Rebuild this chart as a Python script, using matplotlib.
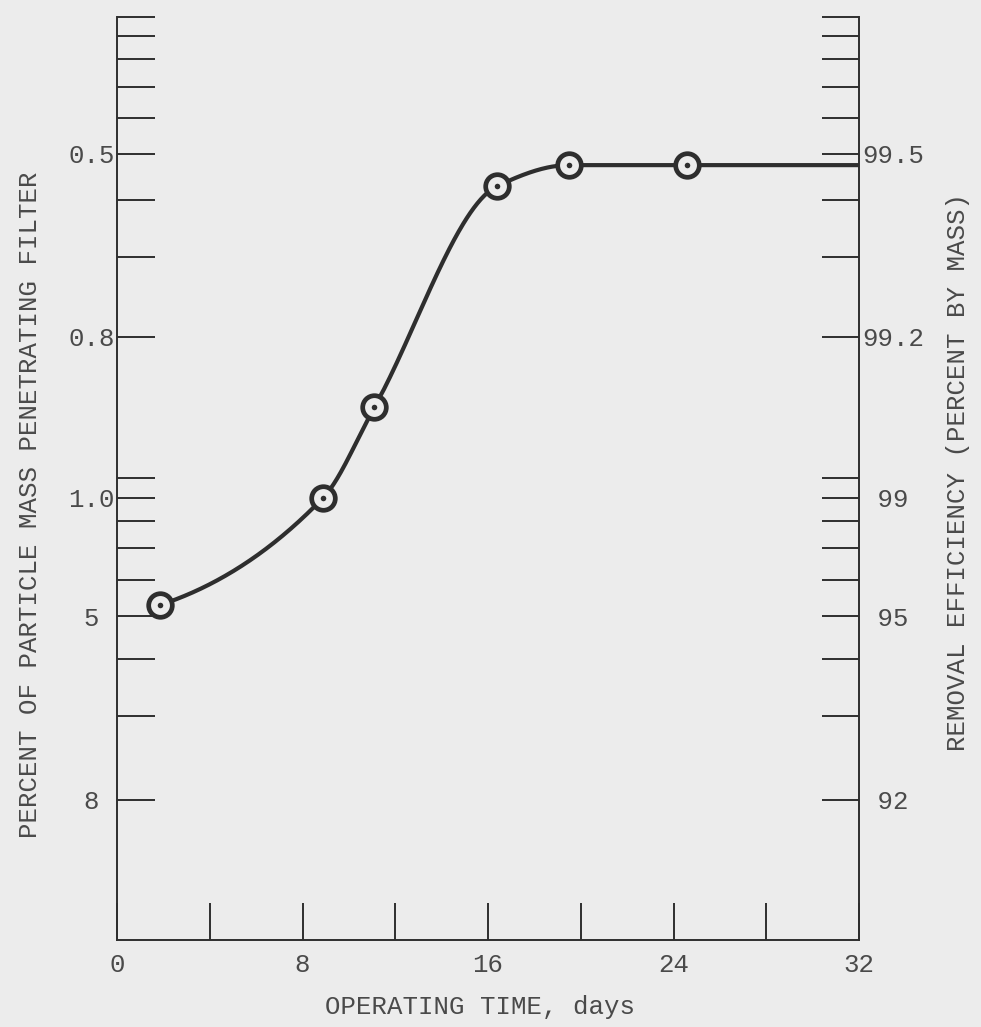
import numpy as np
import matplotlib.pyplot as plt

# filter test readings
days = [1.85, 8.9, 11.1, 16.4, 19.5, 24.6]
penetration = [4.7, 1.0, 0.85, 0.57, 0.525, 0.525]

# labelled rules, penetration on the left and removal efficiency on the right
labelled = [0.5, 0.8, 1.0, 5, 8]
left_labels = ['0.5', '0.8', '1.0', '5 ', '8 ']
right_labels = ['99.5', '99.2', ' 99', ' 95', ' 92']

x_ticks = [0, 4, 8, 12, 16, 20, 24, 28, 32]
x_labels = ['0', '', '8', '', '16', '', '24', '', '32']

# rules of the graph paper: value and depth (px) below the top edge
paper_vals = np.array([0.0, 0.1, 0.2, 0.3, 0.4, 0.5, 0.6, 0.7, 0.8, 0.9,
                       1.0, 2.0, 3.0, 4.0, 5.0, 6.0, 7.0, 8.0])
paper_depth = np.array([0, 19.5, 42, 70, 101.5, 137, 183.5, 240, 320.5, 461,
                        481, 504.5, 531, 563, 599.5, 642.5, 699.5, 783])
axis_depth = 923.5

lo_slope = (paper_depth[1] - paper_depth[0]) / (paper_vals[1] - paper_vals[0])
hi_slope = (paper_depth[-1] - paper_depth[-2]) / (paper_vals[-1] - paper_vals[-2])


def to_depth(v):
    v = np.asarray(v, dtype=float)
    d = np.interp(v, paper_vals, paper_depth)
    d = np.where(v > paper_vals[-1], paper_depth[-1] + (v - paper_vals[-1]) * hi_slope, d)
    d = np.where(v < paper_vals[0], paper_depth[0] + (v - paper_vals[0]) * lo_slope, d)
    return d


def from_depth(d):
    d = np.asarray(d, dtype=float)
    v = np.interp(d, paper_depth, paper_vals)
    v = np.where(d > paper_depth[-1], paper_vals[-1] + (d - paper_depth[-1]) / hi_slope, v)
    v = np.where(d < paper_depth[0], paper_vals[0] + (d - paper_depth[0]) / lo_slope, v)
    return v


def smooth_curve(x, y, xs):
    # monotone cubic hermite through the readings
    x = np.asarray(x, float)
    y = np.asarray(y, float)
    h = np.diff(x)
    d = np.diff(y) / h
    m = np.zeros_like(y)
    for k in range(1, len(x) - 1):
        if d[k - 1] * d[k] > 0:
            w1 = 2 * h[k] + h[k - 1]
            w2 = h[k] + 2 * h[k - 1]
            m[k] = (w1 + w2) / (w1 / d[k - 1] + w2 / d[k])
    m[0] = 0.5 * d[0]
    m[-1] = 0.0
    idx = np.clip(np.searchsorted(x, xs) - 1, 0, len(x) - 2)
    t = (xs - x[idx]) / h[idx]
    h00 = 2 * t**3 - 3 * t**2 + 1
    h10 = t**3 - 2 * t**2 + t
    h01 = -2 * t**3 + 3 * t**2
    h11 = t**3 - t**2
    return (h00 * y[idx] + h10 * h[idx] * m[idx]
            + h01 * y[idx + 1] + h11 * h[idx] * m[idx + 1])


bg = '#ececec'
ink = '#2e2e2e'
text_col = '#4a4a4a'
font = 'Liberation Mono'
fs = 18.5

plt.rcParams['font.family'] = font

fig = plt.figure(figsize=(9.81, 10.27), dpi=100, facecolor=bg)
ax = fig.add_axes([117 / 981, 1 - 940 / 1027, 742 / 981, 923.5 / 1027])
ax.set_facecolor(bg)

x_max = 32
ax.set_yscale('function', functions=(to_depth, from_depth))
ax.set_xlim(0, x_max)
ax.set_ylim(float(from_depth(axis_depth)), 0.0)

# curve drawn in paper depth, flat out to the right edge after the last reading
cx = list(days) + [x_max]
cy = list(to_depth(penetration)) + [float(to_depth(penetration[-1]))]
xs = np.linspace(days[0], x_max, 600)
ax.plot(xs, from_depth(smooth_curve(cx, cy, xs)), color=ink, lw=3.0,
        solid_capstyle='butt', zorder=2)

ax.plot(days, penetration, 'o', ms=17, mfc=bg, mec=ink, mew=3.4, zorder=3)
ax.plot(days, penetration, 'o', ms=4, mfc=ink, mec=ink, mew=0, zorder=4)

for s in ['left', 'right', 'bottom']:
    ax.spines[s].set_color(ink)
    ax.spines[s].set_linewidth(1.4)
ax.spines['top'].set_visible(False)

minor_vals = [v for v in paper_vals if v not in labelled]

ax.set_xticks(x_ticks)
ax.set_xticklabels(x_labels)
ax.set_yticks(labelled)
ax.set_yticklabels(left_labels)
ax.set_yticks(minor_vals, minor=True)
ax.tick_params(axis='both', which='both', direction='in', length=27,
               width=1.4, color=ink, labelcolor=text_col, labelsize=fs)
ax.tick_params(axis='x', pad=9)
ax.tick_params(axis='y', which='both', left=True, right=True, pad=1.5)

# removal efficiency reading on the same rules
ax2 = ax.twinx()
ax2.set_yscale('function', functions=(to_depth, from_depth))
ax2.set_ylim(ax.get_ylim())
ax2.set_yticks(labelled)
ax2.set_yticklabels(right_labels)
ax2.set_yticks(minor_vals, minor=True)
ax2.tick_params(axis='y', which='both', direction='in', length=27, width=1.4,
                color=ink, labelcolor=text_col, labelsize=fs, pad=2)
for s in ax2.spines.values():
    s.set_visible(False)

fig.text(30 / 981, 1 - 505 / 1027, 'PERCENT OF PARTICLE MASS PENETRATING FILTER',
         rotation=90, ha='center', va='center', fontsize=fs, color=text_col)
fig.text(958 / 981, 1 - 472 / 1027, 'REMOVAL EFFICIENCY (PERCENT BY MASS)',
         rotation=90, ha='center', va='center', fontsize=fs, color=text_col)
fig.text(480 / 981, 1 - 1007 / 1027, 'OPERATING TIME, days',
         ha='center', va='center', fontsize=fs, color=text_col)

fig.savefig('out.png', dpi=100, facecolor=bg)
